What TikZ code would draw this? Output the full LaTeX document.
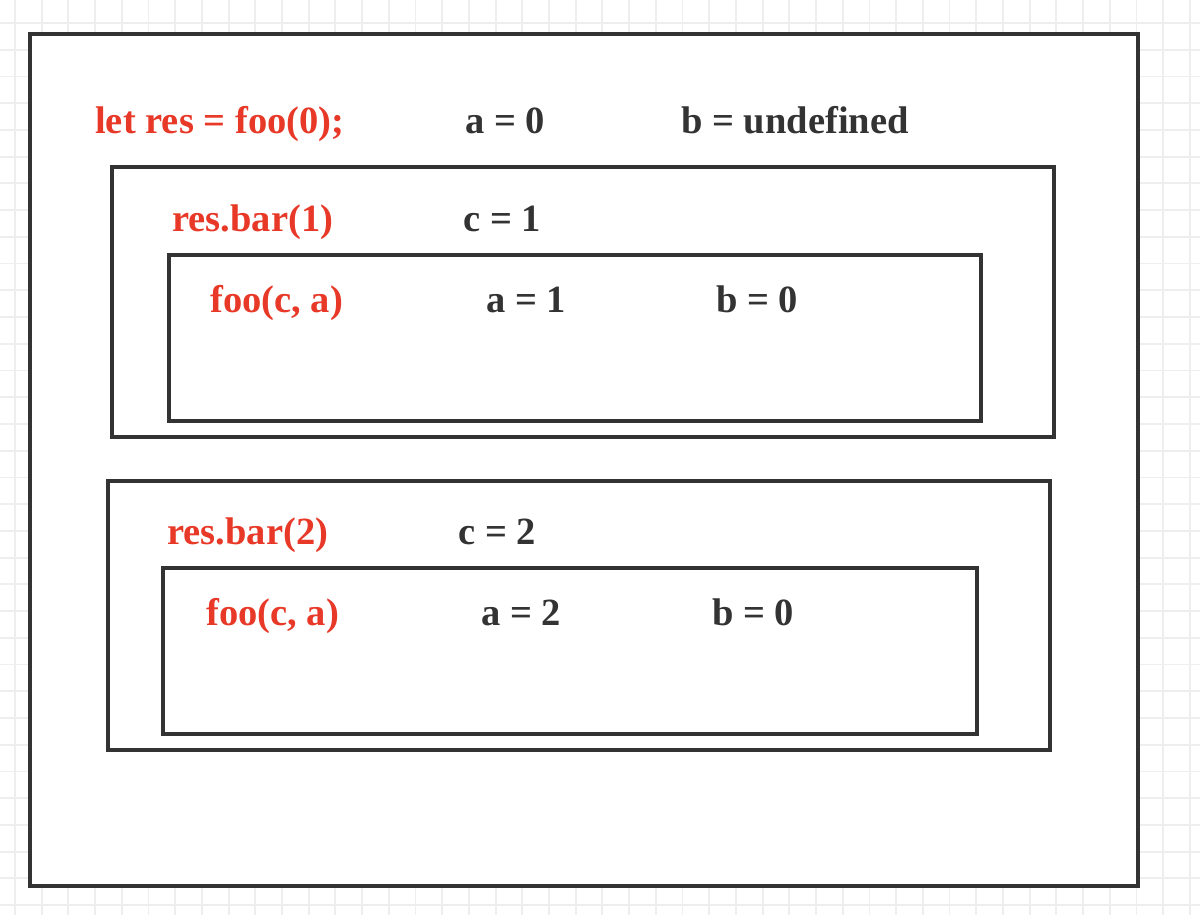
\documentclass[tikz,border=0pt]{standalone}
\usepackage{fontspec}
\setmainfont{Liberation Serif}
\definecolor{codered}{RGB}{232,57,40}
\definecolor{ink}{RGB}{51,51,51}
\definecolor{gridgray}{RGB}{238,238,238}
\tikzset{
    gridline/.style={gridgray, line width=1.3pt},
    frame/.style={ink, line width=2.2pt},
    call/.style={anchor=base west, inner sep=0pt, text=codered, font=\fontsize{27.4}{32}\selectfont\bfseries},
    var/.style={anchor=base west, inner sep=0pt, text=ink, font=\fontsize{27.4}{32}\selectfont\bfseries}
}
\begin{document}
\begin{tikzpicture}[x=0.025cm, y=-0.025cm]
    \useasboundingbox (0,0) rectangle (1200,915);
    \fill[white] (0,0) rectangle (1200,915);

    % background grid
    \foreach \i in {0,...,44}
        \draw[gridline] ({15+26.7*\i},0) -- ({15+26.7*\i},915);
    \foreach \j in {0,...,33}
        \draw[gridline] (0,{23+26.73*\j}) -- (1200,{23+26.73*\j});

    % frames
    \filldraw[frame, fill=white] (30,34) rectangle (1138,886);
    \draw[frame] (112,167) rectangle (1054,437);
    \draw[frame] (169,255) rectangle (981,421);
    \draw[frame] (108,481) rectangle (1050,750);
    \draw[frame] (163,568) rectangle (977,734);

    % global scope
    \node[call] (letres) at (95,133) {let res = foo(0);};
    \node[var] (aglobal) at (465,133) {a = 0};
    \node[var] (bglobal) at (681,133) {b = undefined};

    % first bar call
    \node[call] (barone) at (172,231) {res.bar(1)};
    \node[var] (cone) at (463,231) {c = 1};
    \node[call] (fooone) at (210,312) {foo(c, a)};
    \node[var] (aone) at (486,312) {a = 1};
    \node[var] (bone) at (716,312) {b = 0};

    % second bar call
    \node[call] (bartwo) at (167,544) {res.bar(2)};
    \node[var] (ctwo) at (458,544) {c = 2};
    \node[call] (footwo) at (206,625) {foo(c, a)};
    \node[var] (atwo) at (481,625) {a = 2};
    \node[var] (btwo) at (712,625) {b = 0};
\end{tikzpicture}
\end{document}
